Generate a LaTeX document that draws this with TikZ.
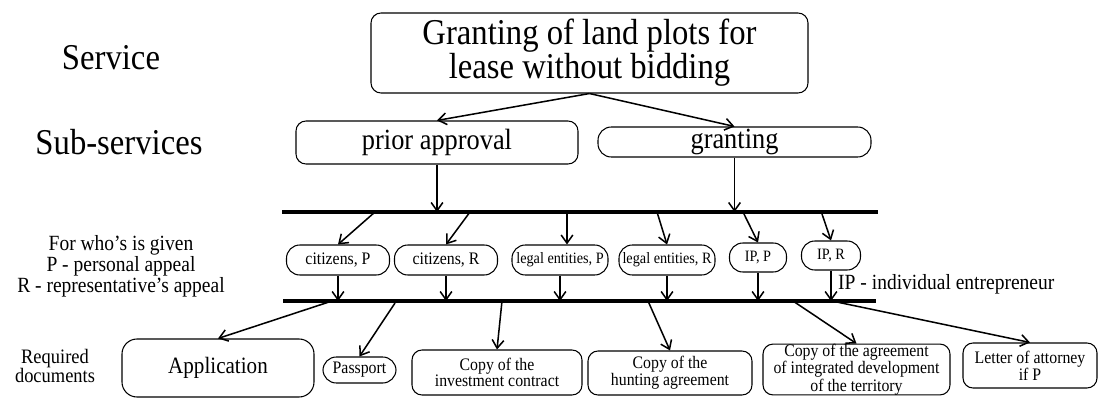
\documentclass[tikz,border=0pt]{standalone}
\usepackage{fontspec}
\setmainfont[FakeStretch=0.9]{Liberation Serif}
\usetikzlibrary{arrows.meta}
\begin{document}
\begin{tikzpicture}[x=0.03cm, y=-0.03cm,
  sz/.style 2 args={minimum width=#1*0.03cm, minimum height=#2*0.03cm, inner sep=0pt},
  box/.style={draw, line width=0.9pt, rounded corners=0.3cm, align=center},
  pill/.style={draw, line width=0.9pt, rounded corners=0.4cm, align=center},
  bar/.style={line width=2.8pt},
  conn/.style={line width=1.3pt, -{Straight Barb[length=7pt, width=10pt]}},
  big/.style={font=\fontsize{31}{33}\selectfont},
  mid/.style={font=\fontsize{25}{27}\selectfont},
  sml/.style={font=\fontsize{15}{10.5}\selectfont},
  tny/.style={font=\fontsize{13.5}{10}\selectfont}]
\useasboundingbox (0,0) rectangle (1099,398);
\node[big] (lService) at (111,58){Service};
\node[big] (lSub) at (119,142){Sub-services};
\node[align=center, font=\fontsize{18.5}{13.6}\selectfont] (lWho) at (121,266){For who’s is given\\P - personal appeal\\R - representative’s appeal};
\node[align=center, font=\fontsize{17.5}{15}\selectfont] (lDocs) at (55,366){Required\\documents};
\node[box, sz={437}{80}, font=\fontsize{31}{29}\selectfont] (top) at (589.5,53){Granting of land plots for\\lease without bidding};
\node[box, sz={282}{43}, mid] (prior) at (437,142.5){prior approval};
\node[pill, sz={273}{30}, mid] (grant) at (734.5,142){granting};
\draw[conn](top.south) -- (prior.north);
\draw[conn](top.south) -- (grant.north);
\coordinate (bar1w) at (282,212);
\coordinate (bar1e) at (878,212);
\coordinate (bar2w) at (283,301);
\coordinate (bar2e) at (876,301);
\draw[bar](bar1w) -- (bar1e);
\draw[bar](bar2w) -- (bar2e);
\draw[conn](prior.south) -- (prior.south |- bar1w);
\draw[conn](grant.south) -- (grant.south |- bar1w);
\node[pill, sz={103}{30}, sml] (citP) at (338,260){citizens, P};
\node[pill, sz={103}{30}, sml] (citR) at (446,260){citizens, R};
\node[pill, sz={96}{30}, tny] (legP) at (560,260){legal entities, P};
\node[pill, sz={96}{30}, tny] (legR) at (667,260){legal entities, R};
\node[pill, sz={57}{29}, tny] (ipP) at (758,257.5){IP, P};
\node[pill, sz={59}{29}, tny] (ipR) at (831,255.5){IP, R};
\coordinate (b1a) at (375,212);
\coordinate (b1b) at (470,212);
\coordinate (b1c) at (567,212);
\coordinate (b1d) at (657,212);
\coordinate (b1e) at (743,212);
\coordinate (b1f) at (822,214);
\draw[conn](b1a) -- (citP.north);
\draw[conn](b1b) -- (citR.north);
\draw[conn](b1c) -- (b1c |- legP.north);
\draw[conn](b1d) -- (legR.north);
\draw[conn](b1e) -- (ipP.north);
\draw[conn](b1f) -- (ipR.north);
\draw[conn](citP.south) -- (citP.south |- bar2w);
\draw[conn](citR.south) -- (citR.south |- bar2w);
\draw[conn](legP.south) -- (legP.south |- bar2w);
\draw[conn](legR.south) -- (legR.south |- bar2w);
\draw[conn](ipP.south) -- (ipP.south |- bar2w);
\draw[conn](ipR.south) -- (ipR.south |- bar2w);
\node[anchor=west, inner sep=0pt, font=\fontsize{18.5}{20}\selectfont] (lIP) at (838,284){IP - individual entrepreneur};
\node[box, sz={192}{58}, rounded corners=0.45cm, font=\fontsize{20}{22}\selectfont] (app) at (218,368){Application};
\node[pill, sz={73}{26}, sml] (pass) at (359.5,370){Passport};
\node[box, sz={170}{45}, sml] (inv) at (497,372.5){Copy of the\\investment contract};
\node[box, sz={164}{44}, sml] (hunt) at (670,373){Copy of the\\hunting agreement};
\node[box, sz={187}{43}, sml] (integ) at (856.5,369.5){Copy of the agreement\\of integrated development\\of the territory};
\node[box, sz={134}{45}, font=\fontsize{15}{12}\selectfont] (letter) at (1030,365.5){Letter of attorney\\if P};
\coordinate (b2a) at (332,301);
\coordinate (b2b) at (395,303);
\coordinate (b2c) at (502,301);
\coordinate (b2d) at (648,301);
\coordinate (b2e) at (793,301);
\coordinate (b2f) at (832,301);
\draw[conn](b2a) -- (app.north);
\draw[conn](b2b) -- (pass.north);
\draw[conn](b2c) -- (inv.north);
\draw[conn](b2d) -- (hunt.north);
\draw[conn](b2e) -- (integ.north);
\draw[conn](b2f) -- (letter.north);
\end{tikzpicture}
\end{document}
